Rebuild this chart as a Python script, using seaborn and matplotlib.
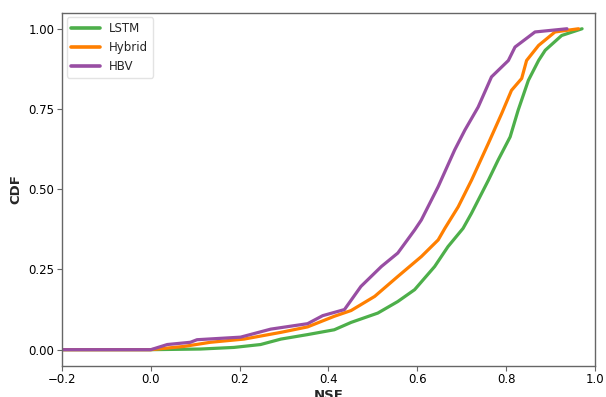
import numpy as np
import pandas as pd
import matplotlib
matplotlib.use("Agg")
import matplotlib.pyplot as plt
import seaborn as sns

lstm_nse = [-0.25, 0.0, 0.112, 0.187, 0.247, 0.293, 0.353, 0.413, 0.451, 0.511, 0.556, 0.594,
            0.639, 0.669, 0.703, 0.722, 0.760, 0.782, 0.809, 0.827, 0.850, 0.873, 0.888, 0.925, 0.971]
lstm_cdf = [0.0, 0.0, 0.002, 0.007, 0.016, 0.033, 0.047, 0.062, 0.085, 0.114, 0.150, 0.187,
            0.259, 0.321, 0.378, 0.425, 0.528, 0.591, 0.663, 0.746, 0.839, 0.901, 0.933, 0.979, 1.0]

hybrid_nse = [-0.25, 0.0, 0.074, 0.134, 0.210, 0.293, 0.353, 0.413, 0.451, 0.504, 0.556, 0.609,
              0.647, 0.662, 0.692, 0.722, 0.760, 0.790, 0.812, 0.835, 0.846, 0.873, 0.910, 0.963]
hybrid_cdf = [0.0, 0.0, 0.010, 0.023, 0.033, 0.054, 0.071, 0.104, 0.122, 0.166, 0.228, 0.290,
              0.342, 0.378, 0.445, 0.528, 0.643, 0.736, 0.808, 0.845, 0.901, 0.948, 0.990, 1.0]

hbv_nse = [-0.25, 0.0, 0.037, 0.089, 0.104, 0.202, 0.270, 0.353, 0.387, 0.436, 0.473, 0.519,
           0.556, 0.594, 0.609, 0.647, 0.684, 0.707, 0.737, 0.767, 0.805, 0.820, 0.865, 0.937]
hbv_cdf = [0.0, 0.0, 0.016, 0.023, 0.031, 0.039, 0.064, 0.081, 0.106, 0.125, 0.197, 0.259,
           0.301, 0.373, 0.404, 0.508, 0.622, 0.684, 0.756, 0.850, 0.901, 0.943, 0.990, 1.0]

models = ["LSTM", "Hybrid", "HBV"]
colors = ["#4daf4a", "#ff7f00", "#984ea3"]

frames = []
for name, xs, ys in [("LSTM", lstm_nse, lstm_cdf), ("Hybrid", hybrid_nse, hybrid_cdf),
                     ("HBV", hbv_nse, hbv_cdf)]:
    frames.append(pd.DataFrame({"NSE": xs, "CDF": ys, "model": name}))
df = pd.concat(frames, ignore_index=True)

sns.set_style("white")
plt.rcParams["font.family"] = ["DejaVu Sans"]

fig = plt.figure(figsize=(6.06, 3.97), dpi=100)
ax = fig.add_axes([0.1023, 0.0788, 0.8795, 0.8892])

sns.lineplot(data=df, x="NSE", y="CDF", hue="model", hue_order=models,
             palette=colors, linewidth=2.3, sort=False, estimator=None, ax=ax)

ax.set_xlim(-0.2, 1.0)
ax.set_ylim(-0.05, 1.05)
ax.set_xticks([-0.2, 0.0, 0.2, 0.4, 0.6, 0.8, 1.0])
ax.set_yticks([0.0, 0.25, 0.5, 0.75, 1.0])
ax.set_yticklabels(["0.00", "0.25", "0.50", "0.75", "1.00"])
ax.set_xlabel("NSE", fontsize=9.5, fontweight="bold", labelpad=2)
ax.set_ylabel("CDF", fontsize=9.5, fontweight="bold", labelpad=4)

for s in ax.spines.values():
    s.set_color("#666666")
    s.set_linewidth(1.0)
ax.tick_params(axis="both", which="major", labelsize=8.5, length=3.5, width=0.8,
               color="#666666", labelcolor="black", direction="out", bottom=True, left=True, pad=2)

leg = ax.legend(loc="upper left", fontsize=8.5, frameon=True, handlelength=2.4,
                borderaxespad=0.4, fancybox=True)
leg.get_frame().set_edgecolor("#dddddd")
for line in leg.get_lines():
    line.set_linewidth(2.6)

fig.savefig("out.png", dpi=100)
